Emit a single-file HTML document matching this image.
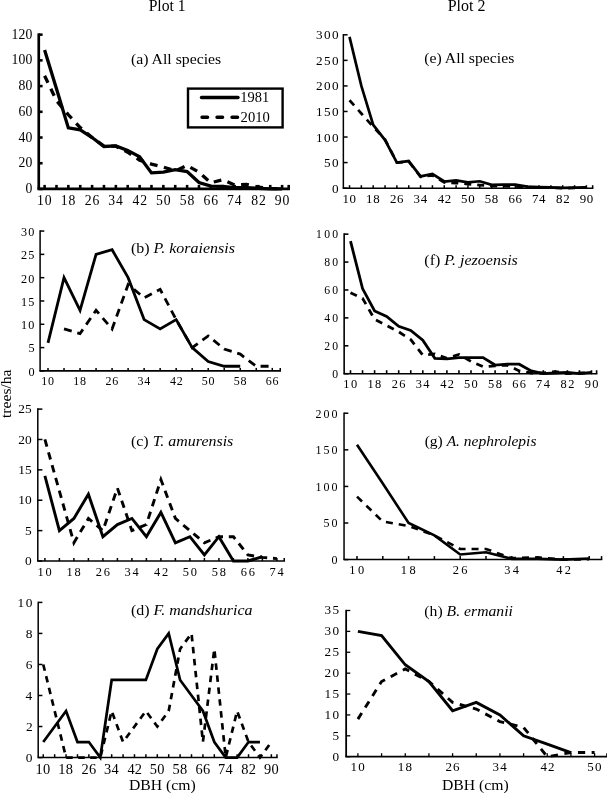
<!DOCTYPE html><html><head><meta charset="utf-8"><style>html,body{margin:0;padding:0;background:#fff;overflow:hidden}svg{display:block;filter:grayscale(1)}text{font-family:"Liberation Serif",serif}</style></head><body><svg width="607" height="793" viewBox="0 0 607 793">
<rect width="607" height="793" fill="#fff"/>
<path d="M38.75,33.35V188.95" stroke="#000" stroke-width="2.7" fill="none"/>
<path d="M37.40,188.95H290.00" stroke="#000" stroke-width="2.7" fill="none"/>
<path d="M38.75,188.95H42.60" stroke="#000" stroke-width="2.6" fill="none"/>
<path d="M38.75,163.23H42.60" stroke="#000" stroke-width="2.6" fill="none"/>
<path d="M38.75,137.52H42.60" stroke="#000" stroke-width="2.6" fill="none"/>
<path d="M38.75,111.80H42.60" stroke="#000" stroke-width="2.6" fill="none"/>
<path d="M38.75,86.08H42.60" stroke="#000" stroke-width="2.6" fill="none"/>
<path d="M38.75,60.37H42.60" stroke="#000" stroke-width="2.6" fill="none"/>
<path d="M38.75,34.65H42.60" stroke="#000" stroke-width="2.6" fill="none"/>
<path d="M44.60,188.95V184.90" stroke="#000" stroke-width="2.6" fill="none"/>
<path d="M56.48,188.95V184.90" stroke="#000" stroke-width="2.6" fill="none"/>
<path d="M68.35,188.95V184.90" stroke="#000" stroke-width="2.6" fill="none"/>
<path d="M80.22,188.95V184.90" stroke="#000" stroke-width="2.6" fill="none"/>
<path d="M92.10,188.95V184.90" stroke="#000" stroke-width="2.6" fill="none"/>
<path d="M103.97,188.95V184.90" stroke="#000" stroke-width="2.6" fill="none"/>
<path d="M115.85,188.95V184.90" stroke="#000" stroke-width="2.6" fill="none"/>
<path d="M127.72,188.95V184.90" stroke="#000" stroke-width="2.6" fill="none"/>
<path d="M139.60,188.95V184.90" stroke="#000" stroke-width="2.6" fill="none"/>
<path d="M151.47,188.95V184.90" stroke="#000" stroke-width="2.6" fill="none"/>
<path d="M163.35,188.95V184.90" stroke="#000" stroke-width="2.6" fill="none"/>
<path d="M175.22,188.95V184.90" stroke="#000" stroke-width="2.6" fill="none"/>
<path d="M187.10,188.95V184.90" stroke="#000" stroke-width="2.6" fill="none"/>
<path d="M198.97,188.95V184.90" stroke="#000" stroke-width="2.6" fill="none"/>
<path d="M210.85,188.95V184.90" stroke="#000" stroke-width="2.6" fill="none"/>
<path d="M222.72,188.95V184.90" stroke="#000" stroke-width="2.6" fill="none"/>
<path d="M234.60,188.95V184.90" stroke="#000" stroke-width="2.6" fill="none"/>
<path d="M246.47,188.95V184.90" stroke="#000" stroke-width="2.6" fill="none"/>
<path d="M258.35,188.95V184.90" stroke="#000" stroke-width="2.6" fill="none"/>
<path d="M270.23,188.95V184.90" stroke="#000" stroke-width="2.6" fill="none"/>
<path d="M282.10,188.95V184.90" stroke="#000" stroke-width="2.6" fill="none"/>
<path d="M288.70,188.95V184.90" stroke="#000" stroke-width="2.6" fill="none"/>
<text x="25.60" y="193.01" font-size="13.7" letter-spacing="0.25" fill="#000">0</text>
<text x="18.50" y="167.30" font-size="13.7" letter-spacing="0.25" fill="#000">20</text>
<text x="18.50" y="141.58" font-size="13.7" letter-spacing="0.25" fill="#000">40</text>
<text x="18.50" y="115.86" font-size="13.7" letter-spacing="0.25" fill="#000">60</text>
<text x="18.50" y="90.15" font-size="13.7" letter-spacing="0.25" fill="#000">80</text>
<text x="11.40" y="64.43" font-size="13.7" letter-spacing="0.25" fill="#000">100</text>
<text x="11.40" y="38.71" font-size="13.7" letter-spacing="0.25" fill="#000">120</text>
<text x="36.93" y="204.66" font-size="13.7" letter-spacing="0.95" fill="#000">10</text>
<text x="60.68" y="204.66" font-size="13.7" letter-spacing="0.95" fill="#000">18</text>
<text x="84.67" y="204.66" font-size="13.7" letter-spacing="0.95" fill="#000">26</text>
<text x="108.29" y="204.66" font-size="13.7" letter-spacing="0.95" fill="#000">34</text>
<text x="132.51" y="204.80" font-size="13.7" letter-spacing="0.95" fill="#000">42</text>
<text x="155.89" y="204.66" font-size="13.7" letter-spacing="0.95" fill="#000">50</text>
<text x="179.64" y="204.66" font-size="13.7" letter-spacing="0.95" fill="#000">58</text>
<text x="203.42" y="204.66" font-size="13.7" letter-spacing="0.95" fill="#000">66</text>
<text x="226.93" y="204.80" font-size="13.7" letter-spacing="0.95" fill="#000">74</text>
<text x="251.13" y="204.66" font-size="13.7" letter-spacing="0.95" fill="#000">82</text>
<text x="274.84" y="204.66" font-size="13.7" letter-spacing="0.95" fill="#000">90</text>
<path d="M44.60,50.08 L56.48,88.66 L68.35,127.87 L80.22,129.80 L92.10,137.52 L103.97,146.52 L115.85,145.87 L127.72,150.38 L139.60,156.80 L151.47,172.88 L163.35,172.23 L175.22,169.66 L187.10,171.59 L198.97,182.52 L210.85,186.12 L222.72,186.38 L234.60,187.66 L246.47,187.66 L258.35,188.31 L270.23,188.95 L282.10,188.95" fill="none" stroke="#000" stroke-width="3.3" stroke-linejoin="miter" stroke-miterlimit="6" stroke-linecap="butt"/>
<path d="M44.60,75.80 L56.48,100.61 L68.35,114.76 L80.22,127.62 L92.10,137.52 L103.97,146.13 L115.85,146.26 L127.72,152.18 L139.60,160.15 L151.47,164.13 L163.35,167.09 L175.22,170.95 L187.10,165.42 L198.97,172.23 L210.85,182.78 L222.72,179.69 L234.60,185.09 L246.47,184.45 L258.35,187.02 L270.23,188.31 L282.10,188.95" fill="none" stroke="#000" stroke-width="3.3" stroke-linejoin="miter" stroke-miterlimit="6" stroke-linecap="butt" stroke-dasharray="7.8 6.6"/>
<path d="M40.10,230.30V370.90" stroke="#000" stroke-width="1.5" fill="none"/>
<path d="M39.35,370.90H281.00" stroke="#000" stroke-width="1.8" fill="none"/>
<path d="M40.10,370.90H44.30" stroke="#000" stroke-width="1.5" fill="none"/>
<path d="M40.10,347.59H44.30" stroke="#000" stroke-width="1.5" fill="none"/>
<path d="M40.10,324.28H44.30" stroke="#000" stroke-width="1.5" fill="none"/>
<path d="M40.10,300.98H44.30" stroke="#000" stroke-width="1.5" fill="none"/>
<path d="M40.10,277.67H44.30" stroke="#000" stroke-width="1.5" fill="none"/>
<path d="M40.10,254.36H44.30" stroke="#000" stroke-width="1.5" fill="none"/>
<path d="M40.10,231.05H44.30" stroke="#000" stroke-width="1.5" fill="none"/>
<path d="M48.00,370.90V367.90" stroke="#000" stroke-width="1.5" fill="none"/>
<path d="M64.02,370.90V367.90" stroke="#000" stroke-width="1.5" fill="none"/>
<path d="M80.04,370.90V367.90" stroke="#000" stroke-width="1.5" fill="none"/>
<path d="M96.06,370.90V367.90" stroke="#000" stroke-width="1.5" fill="none"/>
<path d="M112.08,370.90V367.90" stroke="#000" stroke-width="1.5" fill="none"/>
<path d="M128.10,370.90V367.90" stroke="#000" stroke-width="1.5" fill="none"/>
<path d="M144.12,370.90V367.90" stroke="#000" stroke-width="1.5" fill="none"/>
<path d="M160.14,370.90V367.90" stroke="#000" stroke-width="1.5" fill="none"/>
<path d="M176.16,370.90V367.90" stroke="#000" stroke-width="1.5" fill="none"/>
<path d="M192.18,370.90V367.90" stroke="#000" stroke-width="1.5" fill="none"/>
<path d="M208.20,370.90V367.90" stroke="#000" stroke-width="1.5" fill="none"/>
<path d="M224.22,370.90V367.90" stroke="#000" stroke-width="1.5" fill="none"/>
<path d="M240.24,370.90V367.90" stroke="#000" stroke-width="1.5" fill="none"/>
<path d="M256.26,370.90V367.90" stroke="#000" stroke-width="1.5" fill="none"/>
<path d="M272.28,370.90V367.90" stroke="#000" stroke-width="1.5" fill="none"/>
<path d="M280.25,370.90V367.90" stroke="#000" stroke-width="1.5" fill="none"/>
<text x="28.39" y="375.78" font-size="12.2" letter-spacing="1.4" fill="#000">0</text>
<text x="28.39" y="352.47" font-size="12.2" letter-spacing="1.4" fill="#000">5</text>
<text x="20.89" y="329.16" font-size="12.2" letter-spacing="1.4" fill="#000">10</text>
<text x="20.89" y="305.85" font-size="12.2" letter-spacing="1.4" fill="#000">15</text>
<text x="20.89" y="282.54" font-size="12.2" letter-spacing="1.4" fill="#000">20</text>
<text x="20.89" y="259.24" font-size="12.2" letter-spacing="1.4" fill="#000">25</text>
<text x="20.89" y="235.93" font-size="12.2" letter-spacing="1.4" fill="#000">30</text>
<text x="41.32" y="384.88" font-size="12.0" letter-spacing="0.76" fill="#000">10</text>
<text x="73.36" y="384.88" font-size="12.0" letter-spacing="0.76" fill="#000">18</text>
<text x="105.61" y="384.88" font-size="12.0" letter-spacing="0.76" fill="#000">26</text>
<text x="137.53" y="384.88" font-size="12.0" letter-spacing="0.76" fill="#000">34</text>
<text x="169.99" y="385.00" font-size="12.0" letter-spacing="0.76" fill="#000">42</text>
<text x="201.70" y="384.88" font-size="12.0" letter-spacing="0.76" fill="#000">50</text>
<text x="233.74" y="384.88" font-size="12.0" letter-spacing="0.76" fill="#000">58</text>
<text x="265.81" y="384.88" font-size="12.0" letter-spacing="0.76" fill="#000">66</text>
<path d="M48.00,342.93 L64.02,277.67 L80.04,310.30 L96.06,254.36 L112.08,249.70 L128.10,277.67 L144.12,319.62 L160.14,328.94 L176.16,319.62 L192.18,347.59 L208.20,361.58 L224.22,366.24 L240.24,366.24" fill="none" stroke="#000" stroke-width="2.8" stroke-linejoin="miter" stroke-miterlimit="6" stroke-linecap="butt"/>
<path d="M64.02,328.94 L80.04,333.61 L96.06,310.30 L112.08,328.94 L128.10,284.66 L144.12,297.71 L160.14,289.32 L176.16,319.62 L192.18,347.59 L208.20,335.94 L224.22,348.99 L240.24,354.12 L256.26,366.24 L272.28,366.24" fill="none" stroke="#000" stroke-width="2.8" stroke-linejoin="miter" stroke-miterlimit="6" stroke-linecap="butt" stroke-dasharray="8 5.8"/>
<path d="M37.80,408.35V561.00" stroke="#000" stroke-width="1.5" fill="none"/>
<path d="M37.05,561.00H285.00" stroke="#000" stroke-width="1.7" fill="none"/>
<path d="M37.80,561.00H42.40" stroke="#000" stroke-width="1.5" fill="none"/>
<path d="M37.80,530.62H42.40" stroke="#000" stroke-width="1.5" fill="none"/>
<path d="M37.80,500.24H42.40" stroke="#000" stroke-width="1.5" fill="none"/>
<path d="M37.80,469.86H42.40" stroke="#000" stroke-width="1.5" fill="none"/>
<path d="M37.80,439.48H42.40" stroke="#000" stroke-width="1.5" fill="none"/>
<path d="M37.80,409.10H42.40" stroke="#000" stroke-width="1.5" fill="none"/>
<path d="M44.90,561.00V558.00" stroke="#000" stroke-width="1.5" fill="none"/>
<path d="M59.40,561.00V558.00" stroke="#000" stroke-width="1.5" fill="none"/>
<path d="M73.90,561.00V558.00" stroke="#000" stroke-width="1.5" fill="none"/>
<path d="M88.40,561.00V558.00" stroke="#000" stroke-width="1.5" fill="none"/>
<path d="M102.90,561.00V558.00" stroke="#000" stroke-width="1.5" fill="none"/>
<path d="M117.40,561.00V558.00" stroke="#000" stroke-width="1.5" fill="none"/>
<path d="M131.90,561.00V558.00" stroke="#000" stroke-width="1.5" fill="none"/>
<path d="M146.40,561.00V558.00" stroke="#000" stroke-width="1.5" fill="none"/>
<path d="M160.90,561.00V558.00" stroke="#000" stroke-width="1.5" fill="none"/>
<path d="M175.40,561.00V558.00" stroke="#000" stroke-width="1.5" fill="none"/>
<path d="M189.90,561.00V558.00" stroke="#000" stroke-width="1.5" fill="none"/>
<path d="M204.40,561.00V558.00" stroke="#000" stroke-width="1.5" fill="none"/>
<path d="M218.90,561.00V558.00" stroke="#000" stroke-width="1.5" fill="none"/>
<path d="M233.40,561.00V558.00" stroke="#000" stroke-width="1.5" fill="none"/>
<path d="M247.90,561.00V558.00" stroke="#000" stroke-width="1.5" fill="none"/>
<path d="M262.40,561.00V558.00" stroke="#000" stroke-width="1.5" fill="none"/>
<path d="M276.90,561.00V558.00" stroke="#000" stroke-width="1.5" fill="none"/>
<path d="M284.25,561.00V558.00" stroke="#000" stroke-width="1.5" fill="none"/>
<text x="24.94" y="565.07" font-size="13.4" letter-spacing="0" fill="#000">0</text>
<text x="24.94" y="534.69" font-size="13.4" letter-spacing="0" fill="#000">5</text>
<text x="18.24" y="504.31" font-size="13.4" letter-spacing="0" fill="#000">10</text>
<text x="18.24" y="473.93" font-size="13.4" letter-spacing="0" fill="#000">15</text>
<text x="18.24" y="443.55" font-size="13.4" letter-spacing="0" fill="#000">20</text>
<text x="18.24" y="413.17" font-size="13.4" letter-spacing="0" fill="#000">25</text>
<text x="37.49" y="575.68" font-size="12.4" letter-spacing="1.8" fill="#000">10</text>
<text x="66.49" y="575.68" font-size="12.4" letter-spacing="1.8" fill="#000">18</text>
<text x="95.71" y="575.68" font-size="12.4" letter-spacing="1.8" fill="#000">26</text>
<text x="124.58" y="575.68" font-size="12.4" letter-spacing="1.8" fill="#000">34</text>
<text x="154.02" y="575.80" font-size="12.4" letter-spacing="1.8" fill="#000">42</text>
<text x="182.68" y="575.68" font-size="12.4" letter-spacing="1.8" fill="#000">50</text>
<text x="211.68" y="575.68" font-size="12.4" letter-spacing="1.8" fill="#000">58</text>
<text x="240.71" y="575.68" font-size="12.4" letter-spacing="1.8" fill="#000">66</text>
<text x="269.49" y="575.80" font-size="12.4" letter-spacing="1.8" fill="#000">74</text>
<path d="M44.90,475.94 L59.40,530.62 L73.90,518.47 L88.40,494.16 L102.90,536.70 L117.40,524.54 L131.90,518.47 L146.40,536.70 L160.90,512.39 L175.40,542.77 L189.90,536.70 L204.40,554.92 L218.90,536.70 L233.40,561.00 L247.90,561.00 L262.40,556.75" fill="none" stroke="#000" stroke-width="2.9" stroke-linejoin="miter" stroke-miterlimit="6" stroke-linecap="butt"/>
<path d="M44.90,439.48 L59.40,491.13 L73.90,542.77 L88.40,518.47 L102.90,530.62 L117.40,488.09 L131.90,530.62 L146.40,524.54 L160.90,479.58 L175.40,518.47 L189.90,530.62 L204.40,542.77 L218.90,536.70 L233.40,536.70 L247.90,554.92 L262.40,557.35 L276.90,558.57" fill="none" stroke="#000" stroke-width="2.9" stroke-linejoin="miter" stroke-miterlimit="6" stroke-linecap="butt" stroke-dasharray="7.5 5.8"/>
<path d="M38.20,601.65V757.55" stroke="#000" stroke-width="1.5" fill="none"/>
<path d="M37.45,757.55H277.70" stroke="#000" stroke-width="1.5" fill="none"/>
<path d="M38.20,757.55H42.40" stroke="#000" stroke-width="1.5" fill="none"/>
<path d="M38.20,726.52H42.40" stroke="#000" stroke-width="1.5" fill="none"/>
<path d="M38.20,695.49H42.40" stroke="#000" stroke-width="1.5" fill="none"/>
<path d="M38.20,664.46H42.40" stroke="#000" stroke-width="1.5" fill="none"/>
<path d="M38.20,633.43H42.40" stroke="#000" stroke-width="1.5" fill="none"/>
<path d="M38.20,602.40H42.40" stroke="#000" stroke-width="1.5" fill="none"/>
<path d="M43.25,757.55V754.20" stroke="#000" stroke-width="1.5" fill="none"/>
<path d="M54.66,757.55V754.20" stroke="#000" stroke-width="1.5" fill="none"/>
<path d="M66.06,757.55V754.20" stroke="#000" stroke-width="1.5" fill="none"/>
<path d="M77.47,757.55V754.20" stroke="#000" stroke-width="1.5" fill="none"/>
<path d="M88.87,757.55V754.20" stroke="#000" stroke-width="1.5" fill="none"/>
<path d="M100.28,757.55V754.20" stroke="#000" stroke-width="1.5" fill="none"/>
<path d="M111.68,757.55V754.20" stroke="#000" stroke-width="1.5" fill="none"/>
<path d="M123.08,757.55V754.20" stroke="#000" stroke-width="1.5" fill="none"/>
<path d="M134.49,757.55V754.20" stroke="#000" stroke-width="1.5" fill="none"/>
<path d="M145.89,757.55V754.20" stroke="#000" stroke-width="1.5" fill="none"/>
<path d="M157.30,757.55V754.20" stroke="#000" stroke-width="1.5" fill="none"/>
<path d="M168.70,757.55V754.20" stroke="#000" stroke-width="1.5" fill="none"/>
<path d="M180.11,757.55V754.20" stroke="#000" stroke-width="1.5" fill="none"/>
<path d="M191.51,757.55V754.20" stroke="#000" stroke-width="1.5" fill="none"/>
<path d="M202.92,757.55V754.20" stroke="#000" stroke-width="1.5" fill="none"/>
<path d="M214.32,757.55V754.20" stroke="#000" stroke-width="1.5" fill="none"/>
<path d="M225.73,757.55V754.20" stroke="#000" stroke-width="1.5" fill="none"/>
<path d="M237.13,757.55V754.20" stroke="#000" stroke-width="1.5" fill="none"/>
<path d="M248.54,757.55V754.20" stroke="#000" stroke-width="1.5" fill="none"/>
<path d="M259.94,757.55V754.20" stroke="#000" stroke-width="1.5" fill="none"/>
<path d="M271.35,757.55V754.20" stroke="#000" stroke-width="1.5" fill="none"/>
<path d="M276.95,757.55V754.20" stroke="#000" stroke-width="1.5" fill="none"/>
<text x="25.84" y="761.92" font-size="13.4" letter-spacing="1.6" fill="#000">0</text>
<text x="26.04" y="731.02" font-size="13.4" letter-spacing="1.6" fill="#000">2</text>
<text x="25.50" y="699.99" font-size="13.4" letter-spacing="1.6" fill="#000">4</text>
<text x="25.70" y="668.83" font-size="13.4" letter-spacing="1.6" fill="#000">6</text>
<text x="25.84" y="637.80" font-size="13.4" letter-spacing="1.6" fill="#000">8</text>
<text x="17.54" y="606.77" font-size="13.4" letter-spacing="1.6" fill="#000">10</text>
<text x="35.54" y="773.66" font-size="14.4" letter-spacing="0.3" fill="#000">10</text>
<text x="58.35" y="773.66" font-size="14.4" letter-spacing="0.3" fill="#000">18</text>
<text x="81.41" y="773.66" font-size="14.4" letter-spacing="0.3" fill="#000">26</text>
<text x="104.08" y="773.66" font-size="14.4" letter-spacing="0.3" fill="#000">34</text>
<text x="127.39" y="773.80" font-size="14.4" letter-spacing="0.3" fill="#000">42</text>
<text x="149.81" y="773.66" font-size="14.4" letter-spacing="0.3" fill="#000">50</text>
<text x="172.62" y="773.66" font-size="14.4" letter-spacing="0.3" fill="#000">58</text>
<text x="195.46" y="773.66" font-size="14.4" letter-spacing="0.3" fill="#000">66</text>
<text x="218.02" y="773.80" font-size="14.4" letter-spacing="0.3" fill="#000">74</text>
<text x="241.30" y="773.66" font-size="14.4" letter-spacing="0.3" fill="#000">82</text>
<text x="264.07" y="773.66" font-size="14.4" letter-spacing="0.3" fill="#000">90</text>
<path d="M43.25,742.03 L54.66,726.52 L66.06,711.00 L77.47,742.03 L88.87,742.03 L100.28,757.55 L111.68,679.97 L123.08,679.97 L134.49,679.97 L145.89,679.97 L157.30,648.94 L168.70,633.43 L180.11,679.97 L191.51,695.49 L202.92,711.00 L214.32,742.03 L225.73,757.55 L237.13,757.55 L248.54,742.03 L259.94,742.03" fill="none" stroke="#000" stroke-width="2.7" stroke-linejoin="miter" stroke-miterlimit="6" stroke-linecap="butt"/>
<path d="M43.25,664.46 L54.66,711.00 L66.06,757.55 L77.47,757.55 L88.87,757.55 L100.28,757.55 L111.68,711.00 L123.08,742.03 L134.49,726.52 L145.89,711.00 L157.30,726.52 L168.70,711.00 L180.11,648.94 L191.51,633.43 L202.92,742.03 L214.32,648.94 L225.73,757.55 L237.13,711.00 L248.54,742.03 L259.94,757.55 L271.35,742.03" fill="none" stroke="#000" stroke-width="2.7" stroke-linejoin="miter" stroke-miterlimit="6" stroke-linecap="butt" stroke-dasharray="6.5 5.5"/>
<path d="M343.35,34.05V188.15" stroke="#000" stroke-width="1.5" fill="none"/>
<path d="M342.60,188.15H593.40" stroke="#000" stroke-width="1.5" fill="none"/>
<path d="M343.35,188.15H347.60" stroke="#000" stroke-width="1.5" fill="none"/>
<path d="M343.35,162.59H347.60" stroke="#000" stroke-width="1.5" fill="none"/>
<path d="M343.35,137.03H347.60" stroke="#000" stroke-width="1.5" fill="none"/>
<path d="M343.35,111.47H347.60" stroke="#000" stroke-width="1.5" fill="none"/>
<path d="M343.35,85.92H347.60" stroke="#000" stroke-width="1.5" fill="none"/>
<path d="M343.35,60.36H347.60" stroke="#000" stroke-width="1.5" fill="none"/>
<path d="M343.35,34.80H347.60" stroke="#000" stroke-width="1.5" fill="none"/>
<path d="M349.50,188.15V185.20" stroke="#000" stroke-width="1.5" fill="none"/>
<path d="M361.35,188.15V185.20" stroke="#000" stroke-width="1.5" fill="none"/>
<path d="M373.19,188.15V185.20" stroke="#000" stroke-width="1.5" fill="none"/>
<path d="M385.04,188.15V185.20" stroke="#000" stroke-width="1.5" fill="none"/>
<path d="M396.88,188.15V185.20" stroke="#000" stroke-width="1.5" fill="none"/>
<path d="M408.73,188.15V185.20" stroke="#000" stroke-width="1.5" fill="none"/>
<path d="M420.57,188.15V185.20" stroke="#000" stroke-width="1.5" fill="none"/>
<path d="M432.42,188.15V185.20" stroke="#000" stroke-width="1.5" fill="none"/>
<path d="M444.26,188.15V185.20" stroke="#000" stroke-width="1.5" fill="none"/>
<path d="M456.11,188.15V185.20" stroke="#000" stroke-width="1.5" fill="none"/>
<path d="M467.95,188.15V185.20" stroke="#000" stroke-width="1.5" fill="none"/>
<path d="M479.80,188.15V185.20" stroke="#000" stroke-width="1.5" fill="none"/>
<path d="M491.64,188.15V185.20" stroke="#000" stroke-width="1.5" fill="none"/>
<path d="M503.49,188.15V185.20" stroke="#000" stroke-width="1.5" fill="none"/>
<path d="M515.33,188.15V185.20" stroke="#000" stroke-width="1.5" fill="none"/>
<path d="M527.17,188.15V185.20" stroke="#000" stroke-width="1.5" fill="none"/>
<path d="M539.02,188.15V185.20" stroke="#000" stroke-width="1.5" fill="none"/>
<path d="M550.87,188.15V185.20" stroke="#000" stroke-width="1.5" fill="none"/>
<path d="M562.71,188.15V185.20" stroke="#000" stroke-width="1.5" fill="none"/>
<path d="M574.56,188.15V185.20" stroke="#000" stroke-width="1.5" fill="none"/>
<path d="M586.40,188.15V185.20" stroke="#000" stroke-width="1.5" fill="none"/>
<path d="M592.65,188.15V185.20" stroke="#000" stroke-width="1.5" fill="none"/>
<text x="331.93" y="192.62" font-size="13.2" letter-spacing="1.4" fill="#000">0</text>
<text x="323.93" y="167.06" font-size="13.2" letter-spacing="1.4" fill="#000">50</text>
<text x="315.93" y="141.50" font-size="13.2" letter-spacing="1.4" fill="#000">100</text>
<text x="315.93" y="115.94" font-size="13.2" letter-spacing="1.4" fill="#000">150</text>
<text x="315.93" y="90.38" font-size="13.2" letter-spacing="1.4" fill="#000">200</text>
<text x="315.93" y="64.83" font-size="13.2" letter-spacing="1.4" fill="#000">250</text>
<text x="315.93" y="39.27" font-size="13.2" letter-spacing="1.4" fill="#000">300</text>
<text x="342.38" y="202.87" font-size="12.9" letter-spacing="0.7" fill="#000">10</text>
<text x="366.07" y="202.87" font-size="12.9" letter-spacing="0.7" fill="#000">18</text>
<text x="389.98" y="202.87" font-size="12.9" letter-spacing="0.7" fill="#000">26</text>
<text x="413.54" y="202.87" font-size="12.9" letter-spacing="0.7" fill="#000">34</text>
<text x="437.69" y="203.00" font-size="12.9" letter-spacing="0.7" fill="#000">42</text>
<text x="461.02" y="202.87" font-size="12.9" letter-spacing="0.7" fill="#000">50</text>
<text x="484.71" y="202.87" font-size="12.9" letter-spacing="0.7" fill="#000">58</text>
<text x="508.43" y="202.87" font-size="12.9" letter-spacing="0.7" fill="#000">66</text>
<text x="531.90" y="203.00" font-size="12.9" letter-spacing="0.7" fill="#000">74</text>
<text x="556.01" y="202.87" font-size="12.9" letter-spacing="0.7" fill="#000">82</text>
<text x="579.66" y="202.87" font-size="12.9" letter-spacing="0.7" fill="#000">90</text>
<path d="M349.50,36.84 L361.35,85.92 L373.19,124.77 L385.04,140.10 L396.88,162.59 L408.73,161.06 L420.57,176.39 L432.42,173.84 L444.26,181.50 L456.11,180.48 L467.95,182.27 L479.80,181.25 L491.64,184.83 L503.49,184.57 L515.33,184.57 L527.17,186.62 L539.02,187.13 L550.87,187.38 L562.71,187.89 L574.56,187.64 L586.40,187.38" fill="none" stroke="#000" stroke-width="2.7" stroke-linejoin="miter" stroke-miterlimit="6" stroke-linecap="butt"/>
<path d="M349.50,100.23 L361.35,113.52 L373.19,126.81 L385.04,139.59 L396.88,162.59 L408.73,161.57 L420.57,176.90 L432.42,175.37 L444.26,182.53 L456.11,183.04 L467.95,184.06 L479.80,185.08 L491.64,186.11 L503.49,186.11 L515.33,186.62 L527.17,187.13 L539.02,187.64 L550.87,187.64 L562.71,188.15 L574.56,187.89 L586.40,187.64" fill="none" stroke="#000" stroke-width="2.7" stroke-linejoin="miter" stroke-miterlimit="6" stroke-linecap="butt" stroke-dasharray="7 6"/>
<path d="M344.15,233.35V373.70" stroke="#000" stroke-width="1.6" fill="none"/>
<path d="M343.35,373.70H597.40" stroke="#000" stroke-width="1.6" fill="none"/>
<path d="M344.15,373.70H348.40" stroke="#000" stroke-width="1.6" fill="none"/>
<path d="M344.15,345.79H348.40" stroke="#000" stroke-width="1.6" fill="none"/>
<path d="M344.15,317.88H348.40" stroke="#000" stroke-width="1.6" fill="none"/>
<path d="M344.15,289.97H348.40" stroke="#000" stroke-width="1.6" fill="none"/>
<path d="M344.15,262.06H348.40" stroke="#000" stroke-width="1.6" fill="none"/>
<path d="M344.15,234.15H348.40" stroke="#000" stroke-width="1.6" fill="none"/>
<path d="M350.50,373.70V370.20" stroke="#000" stroke-width="1.6" fill="none"/>
<path d="M362.55,373.70V370.20" stroke="#000" stroke-width="1.6" fill="none"/>
<path d="M374.60,373.70V370.20" stroke="#000" stroke-width="1.6" fill="none"/>
<path d="M386.65,373.70V370.20" stroke="#000" stroke-width="1.6" fill="none"/>
<path d="M398.70,373.70V370.20" stroke="#000" stroke-width="1.6" fill="none"/>
<path d="M410.75,373.70V370.20" stroke="#000" stroke-width="1.6" fill="none"/>
<path d="M422.80,373.70V370.20" stroke="#000" stroke-width="1.6" fill="none"/>
<path d="M434.85,373.70V370.20" stroke="#000" stroke-width="1.6" fill="none"/>
<path d="M446.90,373.70V370.20" stroke="#000" stroke-width="1.6" fill="none"/>
<path d="M458.95,373.70V370.20" stroke="#000" stroke-width="1.6" fill="none"/>
<path d="M471.00,373.70V370.20" stroke="#000" stroke-width="1.6" fill="none"/>
<path d="M483.05,373.70V370.20" stroke="#000" stroke-width="1.6" fill="none"/>
<path d="M495.10,373.70V370.20" stroke="#000" stroke-width="1.6" fill="none"/>
<path d="M507.15,373.70V370.20" stroke="#000" stroke-width="1.6" fill="none"/>
<path d="M519.20,373.70V370.20" stroke="#000" stroke-width="1.6" fill="none"/>
<path d="M531.25,373.70V370.20" stroke="#000" stroke-width="1.6" fill="none"/>
<path d="M543.30,373.70V370.20" stroke="#000" stroke-width="1.6" fill="none"/>
<path d="M555.35,373.70V370.20" stroke="#000" stroke-width="1.6" fill="none"/>
<path d="M567.40,373.70V370.20" stroke="#000" stroke-width="1.6" fill="none"/>
<path d="M579.45,373.70V370.20" stroke="#000" stroke-width="1.6" fill="none"/>
<path d="M591.50,373.70V370.20" stroke="#000" stroke-width="1.6" fill="none"/>
<path d="M596.60,373.70V370.20" stroke="#000" stroke-width="1.6" fill="none"/>
<text x="332.32" y="377.78" font-size="11.7" letter-spacing="2.25" fill="#000">0</text>
<text x="324.22" y="349.87" font-size="11.7" letter-spacing="2.25" fill="#000">20</text>
<text x="324.22" y="321.96" font-size="11.7" letter-spacing="2.25" fill="#000">40</text>
<text x="324.22" y="294.05" font-size="11.7" letter-spacing="2.25" fill="#000">60</text>
<text x="324.22" y="266.14" font-size="11.7" letter-spacing="2.25" fill="#000">80</text>
<text x="316.12" y="238.23" font-size="11.7" letter-spacing="2.25" fill="#000">100</text>
<text x="343.29" y="387.58" font-size="12.4" letter-spacing="1.4" fill="#000">10</text>
<text x="367.39" y="387.58" font-size="12.4" letter-spacing="1.4" fill="#000">18</text>
<text x="391.71" y="387.58" font-size="12.4" letter-spacing="1.4" fill="#000">26</text>
<text x="415.68" y="387.58" font-size="12.4" letter-spacing="1.4" fill="#000">34</text>
<text x="440.22" y="387.70" font-size="12.4" letter-spacing="1.4" fill="#000">42</text>
<text x="463.98" y="387.58" font-size="12.4" letter-spacing="1.4" fill="#000">50</text>
<text x="488.08" y="387.58" font-size="12.4" letter-spacing="1.4" fill="#000">58</text>
<text x="512.21" y="387.58" font-size="12.4" letter-spacing="1.4" fill="#000">66</text>
<text x="536.09" y="387.70" font-size="12.4" letter-spacing="1.4" fill="#000">74</text>
<text x="560.59" y="387.58" font-size="12.4" letter-spacing="1.4" fill="#000">82</text>
<text x="584.66" y="387.58" font-size="12.4" letter-spacing="1.4" fill="#000">90</text>
<path d="M350.50,241.13 L362.55,288.57 L374.60,310.90 L386.65,316.48 L398.70,326.25 L410.75,330.44 L422.80,340.21 L434.85,358.35 L446.90,358.91 L458.95,357.65 L471.00,357.65 L483.05,357.65 L495.10,365.05 L507.15,364.21 L519.20,364.21 L531.25,370.91 L543.30,373.70 L555.35,373.00 L567.40,372.30 L579.45,373.70 L591.50,372.30" fill="none" stroke="#000" stroke-width="2.8" stroke-linejoin="miter" stroke-miterlimit="6" stroke-linecap="butt"/>
<path d="M350.50,292.76 L362.55,298.34 L374.60,319.28 L386.65,325.42 L398.70,331.83 L410.75,339.65 L422.80,355.14 L434.85,353.88 L446.90,358.35 L458.95,354.44 L471.00,361.42 L483.05,366.72 L495.10,365.89 L507.15,365.05 L519.20,370.91 L531.25,373.00 L543.30,373.00 L555.35,371.61 L567.40,373.70 L579.45,373.00 L591.50,373.00" fill="none" stroke="#000" stroke-width="2.8" stroke-linejoin="miter" stroke-miterlimit="6" stroke-linecap="butt" stroke-dasharray="7 6"/>
<path d="M344.05,412.50V559.60" stroke="#000" stroke-width="1.5" fill="none"/>
<path d="M343.30,559.60H602.30" stroke="#000" stroke-width="1.5" fill="none"/>
<path d="M344.05,559.60H348.30" stroke="#000" stroke-width="1.5" fill="none"/>
<path d="M344.05,523.01H348.30" stroke="#000" stroke-width="1.5" fill="none"/>
<path d="M344.05,486.43H348.30" stroke="#000" stroke-width="1.5" fill="none"/>
<path d="M344.05,449.84H348.30" stroke="#000" stroke-width="1.5" fill="none"/>
<path d="M344.05,413.25H348.30" stroke="#000" stroke-width="1.5" fill="none"/>
<path d="M357.00,559.60V556.10" stroke="#000" stroke-width="1.5" fill="none"/>
<path d="M382.80,559.60V556.10" stroke="#000" stroke-width="1.5" fill="none"/>
<path d="M408.60,559.60V556.10" stroke="#000" stroke-width="1.5" fill="none"/>
<path d="M434.40,559.60V556.10" stroke="#000" stroke-width="1.5" fill="none"/>
<path d="M460.20,559.60V556.10" stroke="#000" stroke-width="1.5" fill="none"/>
<path d="M486.00,559.60V556.10" stroke="#000" stroke-width="1.5" fill="none"/>
<path d="M511.80,559.60V556.10" stroke="#000" stroke-width="1.5" fill="none"/>
<path d="M537.60,559.60V556.10" stroke="#000" stroke-width="1.5" fill="none"/>
<path d="M563.40,559.60V556.10" stroke="#000" stroke-width="1.5" fill="none"/>
<path d="M589.20,559.60V556.10" stroke="#000" stroke-width="1.5" fill="none"/>
<path d="M601.55,559.60V556.10" stroke="#000" stroke-width="1.5" fill="none"/>
<text x="331.38" y="563.98" font-size="12.0" letter-spacing="2.0" fill="#000">0</text>
<text x="323.38" y="527.39" font-size="12.0" letter-spacing="2.0" fill="#000">50</text>
<text x="315.38" y="490.81" font-size="12.0" letter-spacing="2.0" fill="#000">100</text>
<text x="315.38" y="454.22" font-size="12.0" letter-spacing="2.0" fill="#000">150</text>
<text x="315.38" y="417.63" font-size="12.0" letter-spacing="2.0" fill="#000">200</text>
<text x="349.24" y="574.28" font-size="12.4" letter-spacing="2.5" fill="#000">10</text>
<text x="400.84" y="574.28" font-size="12.4" letter-spacing="2.5" fill="#000">18</text>
<text x="452.66" y="574.28" font-size="12.4" letter-spacing="2.5" fill="#000">26</text>
<text x="504.13" y="574.28" font-size="12.4" letter-spacing="2.5" fill="#000">34</text>
<text x="556.17" y="574.40" font-size="12.4" letter-spacing="2.5" fill="#000">42</text>
<path d="M357.00,444.72 L382.80,483.50 L408.60,523.01 L434.40,535.45 L460.20,554.48 L486.00,552.28 L511.80,558.87 L537.60,558.87 L563.40,559.60 L589.20,558.50" fill="none" stroke="#000" stroke-width="2.6" stroke-linejoin="miter" stroke-miterlimit="6" stroke-linecap="butt"/>
<path d="M357.00,496.67 L382.80,521.55 L408.60,525.94 L434.40,535.45 L460.20,548.99 L486.00,548.99 L511.80,558.14 L537.60,557.40 L563.40,559.60 L589.20,559.23" fill="none" stroke="#000" stroke-width="2.6" stroke-linejoin="miter" stroke-miterlimit="6" stroke-linecap="butt" stroke-dasharray="7 6"/>
<path d="M346.15,609.85V756.70" stroke="#000" stroke-width="1.8" fill="none"/>
<path d="M345.25,756.70H607.50" stroke="#000" stroke-width="1.8" fill="none"/>
<path d="M346.15,756.70H350.30" stroke="#000" stroke-width="1.3" fill="none"/>
<path d="M346.15,735.81H350.30" stroke="#000" stroke-width="1.3" fill="none"/>
<path d="M346.15,714.93H350.30" stroke="#000" stroke-width="1.3" fill="none"/>
<path d="M346.15,694.04H350.30" stroke="#000" stroke-width="1.3" fill="none"/>
<path d="M346.15,673.16H350.30" stroke="#000" stroke-width="1.3" fill="none"/>
<path d="M346.15,652.27H350.30" stroke="#000" stroke-width="1.3" fill="none"/>
<path d="M346.15,631.39H350.30" stroke="#000" stroke-width="1.3" fill="none"/>
<path d="M346.15,610.50H350.30" stroke="#000" stroke-width="1.3" fill="none"/>
<path d="M357.90,756.70V753.20" stroke="#000" stroke-width="1.3" fill="none"/>
<path d="M381.57,756.70V753.20" stroke="#000" stroke-width="1.3" fill="none"/>
<path d="M405.24,756.70V753.20" stroke="#000" stroke-width="1.3" fill="none"/>
<path d="M428.91,756.70V753.20" stroke="#000" stroke-width="1.3" fill="none"/>
<path d="M452.58,756.70V753.20" stroke="#000" stroke-width="1.3" fill="none"/>
<path d="M476.25,756.70V753.20" stroke="#000" stroke-width="1.3" fill="none"/>
<path d="M499.92,756.70V753.20" stroke="#000" stroke-width="1.3" fill="none"/>
<path d="M523.59,756.70V753.20" stroke="#000" stroke-width="1.3" fill="none"/>
<path d="M547.26,756.70V753.20" stroke="#000" stroke-width="1.3" fill="none"/>
<path d="M570.93,756.70V753.20" stroke="#000" stroke-width="1.3" fill="none"/>
<path d="M594.60,756.70V753.20" stroke="#000" stroke-width="1.3" fill="none"/>
<path d="M606.85,756.70V753.20" stroke="#000" stroke-width="1.3" fill="none"/>
<text x="332.43" y="760.67" font-size="13.2" letter-spacing="1.4" fill="#000">0</text>
<text x="332.43" y="739.78" font-size="13.2" letter-spacing="1.4" fill="#000">5</text>
<text x="324.43" y="718.90" font-size="13.2" letter-spacing="1.4" fill="#000">10</text>
<text x="324.43" y="698.01" font-size="13.2" letter-spacing="1.4" fill="#000">15</text>
<text x="324.43" y="677.13" font-size="13.2" letter-spacing="1.4" fill="#000">20</text>
<text x="324.43" y="656.24" font-size="13.2" letter-spacing="1.4" fill="#000">25</text>
<text x="324.43" y="635.35" font-size="13.2" letter-spacing="1.4" fill="#000">30</text>
<text x="324.43" y="614.47" font-size="13.2" letter-spacing="1.4" fill="#000">35</text>
<text x="350.47" y="770.77" font-size="13.0" letter-spacing="1.2" fill="#000">10</text>
<text x="397.81" y="770.77" font-size="13.0" letter-spacing="1.2" fill="#000">18</text>
<text x="445.38" y="770.77" font-size="13.0" letter-spacing="1.2" fill="#000">26</text>
<text x="492.59" y="770.77" font-size="13.0" letter-spacing="1.2" fill="#000">34</text>
<text x="540.39" y="770.90" font-size="13.0" letter-spacing="1.2" fill="#000">42</text>
<text x="587.37" y="770.77" font-size="13.0" letter-spacing="1.2" fill="#000">50</text>
<path d="M357.90,631.39 L381.57,635.56 L405.24,664.80 L428.91,681.51 L452.58,710.75 L476.25,702.40 L499.92,714.93 L523.59,735.81 L547.26,744.17 L570.93,752.52" fill="none" stroke="#000" stroke-width="2.9" stroke-linejoin="miter" stroke-miterlimit="6" stroke-linecap="butt"/>
<path d="M357.90,719.11 L381.57,681.51 L405.24,668.98 L428.91,681.51 L452.58,702.40 L476.25,709.08 L499.92,721.61 L523.59,727.46 L547.26,756.70 L570.93,752.52 L594.60,752.52" fill="none" stroke="#000" stroke-width="2.9" stroke-linejoin="miter" stroke-miterlimit="6" stroke-linecap="butt" stroke-dasharray="7.2 6.5"/>
<text x="148.63" y="10.75" font-size="15.8" textLength="37.04" lengthAdjust="spacingAndGlyphs" fill="#000" >Plot 1</text>
<text x="447.72" y="10.70" font-size="15.8" textLength="37.68" lengthAdjust="spacingAndGlyphs" fill="#000" >Plot 2</text>
<text x="128.93" y="789.70" font-size="15.6" textLength="66.76" lengthAdjust="spacingAndGlyphs" fill="#000" >DBH (cm)</text>
<text x="442.03" y="789.70" font-size="15.6" textLength="66.76" lengthAdjust="spacingAndGlyphs" fill="#000" >DBH (cm)</text>
<g transform="translate(10.9,417.96) rotate(-90)"><text x="0" y="0" font-size="14.0" textLength="48.48" lengthAdjust="spacingAndGlyphs" fill="#000">trees/ha</text></g>
<text x="130.99" y="63.65" font-size="15.5" textLength="90.16" lengthAdjust="spacingAndGlyphs" fill="#000" >(a) All species</text>
<text x="130.98" y="252.80" font-size="14.0" textLength="103.98" lengthAdjust="spacingAndGlyphs" fill="#000" >(b) <tspan font-style="italic">P. koraiensis</tspan></text>
<text x="130.98" y="445.70" font-size="14.8" textLength="102.31" lengthAdjust="spacingAndGlyphs" fill="#000" >(c) <tspan font-style="italic">T. amurensis</tspan></text>
<text x="130.98" y="614.80" font-size="15.0" textLength="121.46" lengthAdjust="spacingAndGlyphs" fill="#000" >(d) <tspan font-style="italic">F. mandshurica</tspan></text>
<text x="424.29" y="63.30" font-size="15.5" textLength="90.06" lengthAdjust="spacingAndGlyphs" fill="#000" >(e) All species</text>
<text x="424.38" y="264.80" font-size="15.1" textLength="93.45" lengthAdjust="spacingAndGlyphs" fill="#000" >(f) <tspan font-style="italic">P. jezoensis</tspan></text>
<text x="424.70" y="445.60" font-size="15.0" textLength="111.78" lengthAdjust="spacingAndGlyphs" fill="#000" >(g) <tspan font-style="italic">A. nephrolepis</tspan></text>
<text x="424.39" y="615.60" font-size="15.2" textLength="88.52" lengthAdjust="spacingAndGlyphs" fill="#000" >(h) <tspan font-style="italic">B. ermanii</tspan></text>
<rect x="188" y="88.6" width="94.6" height="38.8" fill="#fff" stroke="#000" stroke-width="2.4"/>
<path d="M201.5,97.5H238" stroke="#000" stroke-width="3.4" stroke-linecap="round" fill="none"/>
<path d="M202,117.3H238" stroke="#000" stroke-width="3.4" stroke-linecap="round" stroke-dasharray="5.6 9.4" fill="none"/>
<text x="240.30" y="102.20" font-size="14.2" textLength="28.86" lengthAdjust="spacingAndGlyphs" fill="#000" >1981</text>
<text x="240.64" y="121.80" font-size="14.0" textLength="29.24" lengthAdjust="spacingAndGlyphs" fill="#000" >2010</text>
</svg></body></html>
